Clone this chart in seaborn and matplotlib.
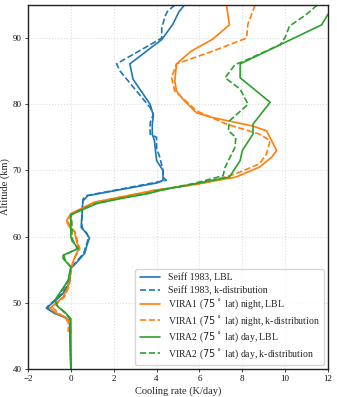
import pandas as pd
import seaborn as sns
import matplotlib.pyplot as plt

# Seiff 1983
seiff_lbl_alt = [95, 94, 92.1, 89.8, 86.1, 83.8, 80, 78.3, 77, 75.5, 74.5, 71.5, 70, 68.5, 68.1,
                 66.2, 65.4, 61.4, 60.6, 59.8, 58.7, 57.5, 56.2, 55.2, 53, 51.4, 50.4, 49.2, 48.4,
                 47.7, 47.1, 40]
seiff_lbl_rate = [5.3, 5.05, 4.76, 4.25, 2.75, 2.9, 3.7, 3.85, 3.8, 3.8, 3.9, 4.0, 4.3, 4.3, 4.0,
                  0.8, 0.56, 0.48, 0.7, 0.87, 0.75, 0.65, 0.3, 0.0, -0.06, -0.37, -0.7, -1.15, -0.76,
                  -0.23, -0.06, 0.0]
seiff_kd_alt = [95, 94, 93.3, 91.5, 90, 86.1, 85, 79.5, 78.5, 77.2, 75.5, 75, 73.4, 72, 70, 69, 68.5,
                66.2, 65.7, 62, 61.2, 60.5, 59.8, 58.5, 57.5, 56.2, 55.2, 53, 51.4, 50.4, 49.4, 48.6,
                47.9, 47.2, 40]
seiff_kd_rate = [4.85, 4.5, 4.4, 4.24, 4.24, 2.13, 2.3, 3.7, 3.85, 3.7, 3.7, 4.0, 4.0, 4.15, 4.3, 4.3,
                 4.45, 0.73, 0.57, 0.5, 0.55, 0.75, 0.82, 0.7, 0.6, 0.25, 0.0, -0.1, -0.4, -0.75, -1.1,
                 -0.8, -0.3, -0.05, 0.0]

# VIRA1 (75 lat) night
vira1_lbl_alt = [95, 92, 89.8, 88, 86.1, 83.5, 82, 80.5, 78.7, 78, 76.7, 76, 74.5, 73, 72, 70.5, 69,
                 68, 67, 66.2, 65.2, 64, 63.5, 62.4, 61.6, 60.7, 59.4, 58.2, 56.9, 55.4, 52.4, 50.9,
                 49.6, 49.2, 48.4, 47.7, 47.1, 45.5]
vira1_lbl_rate = [7.26, 7.4, 6.6, 5.6, 4.93, 4.85, 4.93, 5.3, 5.87, 6.6, 8.5, 9.13, 9.37, 9.6, 9.37,
                  8.8, 7.7, 6.0, 3.9, 2.66, 1.1, 0.33, 0.0, -0.2, -0.1, 0.17, 0.26, 0.38, 0.18, 0.02,
                  -0.13, -0.36, -0.83, -0.98, -0.67, -0.2, -0.05, 0.0]
vira1_kd_alt = [95, 92.1, 90, 88, 86.1, 84, 82, 79, 77, 75.5, 74.5, 72.5, 71, 69.5, 68, 67, 66.2, 65.2,
                64, 63.5, 62.4, 61.6, 60.7, 59.4, 58.2, 56.9, 55.4, 52.4, 50.9, 49.8, 49.3, 48.5, 47.7,
                47, 45.6]
vira1_kd_rate = [8.6, 8.26, 8.2, 6.6, 4.93, 4.7, 4.85, 5.87, 7.26, 8.8, 9.3, 9.13, 8.8, 7.7, 6.1, 3.9,
                 2.7, 1.1, 0.35, 0.05, -0.15, -0.05, 0.2, 0.3, 0.42, 0.2, 0.03, -0.1, -0.3, -0.7, -0.85,
                 -0.6, -0.25, -0.12, -0.12]

# VIRA2 (75 lat) day
vira2_lbl_alt = [95.5, 93.6, 92, 86.1, 84, 80.3, 77, 75.5, 73, 71.5, 69, 68, 67, 66.5, 65.8, 65, 63.8,
                 63.3, 62, 60, 59.4, 58.2, 57.2, 56.7, 55.4, 53.4, 51.9, 50.4, 49.4, 48.6, 47.6, 40]
vira2_lbl_rate = [12.6, 12.0, 11.7, 7.9, 7.9, 9.3, 8.5, 8.5, 8.0, 7.9, 7.4, 5.8, 4.2, 3.6, 2.4, 1.2,
                  0.35, 0.0, 0.0, 0.0, 0.05, 0.35, -0.36, -0.36, 0.0, -0.13, -0.43, -0.75, -0.6, -0.28,
                  0.0, 0.0]
vira2_kd_alt = [95, 93.6, 91.8, 90.1, 89, 86.5, 86, 84, 82.3, 80, 77.5, 76, 75, 73.5, 70.5, 69.2, 68,
                67, 66.5, 65.8, 65, 63.8, 63.3, 62, 60, 59.4, 58.2, 57.2, 56.7, 55.4, 53.4, 51.9, 50.4,
                49.6, 48.7, 47.6, 40]
vira2_kd_rate = [11.5, 11.0, 10.2, 10.0, 9.77, 8.06, 7.66, 7.2, 7.9, 8.27, 7.4, 7.35, 7.7, 7.66, 7.2,
                 7.1, 5.7, 4.1, 3.5, 2.3, 1.15, 0.3, 0.0, 0.05, 0.05, 0.1, 0.3, -0.3, -0.3, 0.0, -0.1,
                 -0.4, -0.7, -0.65, -0.35, -0.05, 0.0]

series = [
    ("Seiff 1983, LBL", seiff_lbl_rate, seiff_lbl_alt, "tab:blue", "-"),
    ("Seiff 1983, k-distribution", seiff_kd_rate, seiff_kd_alt, "tab:blue", "--"),
    (r"VIRA1 ($75^\circ$ lat) night, LBL", vira1_lbl_rate, vira1_lbl_alt, "tab:orange", "-"),
    (r"VIRA1 ($75^\circ$ lat) night, k-distribution", vira1_kd_rate, vira1_kd_alt, "tab:orange", "--"),
    (r"VIRA2 ($75^\circ$ lat) day, LBL", vira2_lbl_rate, vira2_lbl_alt, "tab:green", "-"),
    (r"VIRA2 ($75^\circ$ lat) day, k-distribution", vira2_kd_rate, vira2_kd_alt, "tab:green", "--"),
]

sns.set_style("whitegrid", {"grid.linestyle": ":", "grid.color": "#dddddd",
                            "axes.edgecolor": "#222222"})
plt.rcParams["font.family"] = ["Liberation Serif", "DejaVu Serif"]
plt.rcParams["mathtext.fontset"] = "dejavusans"

fig = plt.figure(figsize=(3.37, 3.97), dpi=100)
ax = fig.add_axes([28 / 337, 28 / 397, 300 / 337, 364 / 397])

for label, rate, alt, color, ls in series:
    df = pd.DataFrame({"rate": rate, "alt": alt})
    sns.lineplot(data=df, x="rate", y="alt", sort=False, estimator=None, color=color,
                 linestyle=ls, linewidth=1.2, label=label, ax=ax)

ax.set_xlim(-2, 12)
ax.set_ylim(40, 95)
ax.set_xticks(range(-2, 13, 2))
ax.set_yticks(range(40, 91, 10))
ax.tick_params(labelsize=6.5, length=2.5, width=0.6, left=True, bottom=True, pad=2,
               labelcolor="#111111")
ax.set_xlabel("Cooling rate (K/day)", fontsize=7.5, labelpad=2)
ax.set_ylabel("Altitude (km)", fontsize=7.5, labelpad=2)
for sp in ax.spines.values():
    sp.set_linewidth(1.0)
ax.legend(loc="lower right", fontsize=7, frameon=True, handlelength=2.1, borderpad=0.45,
          labelspacing=0.3, handletextpad=0.8, borderaxespad=0.4, edgecolor="#cccccc")

fig.savefig("out.png", dpi=100)
